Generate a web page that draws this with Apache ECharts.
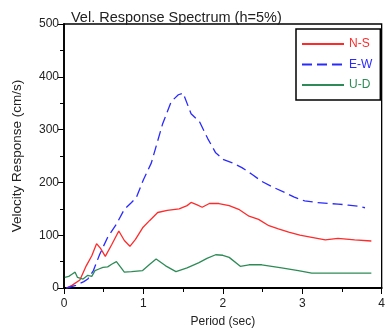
<!DOCTYPE html>
<html>
<head>
    <meta charset="UTF-8">
    <title>Vel. Response Spectrum</title>
    <script src="https://cdn.jsdelivr.net/npm/echarts@6/dist/echarts.min.js"></script>
    <style>
        html, body { margin: 0; padding: 0; background: #fff; }
        #chart { width: 388px; height: 333px; }
    </style>
</head>
<body>
<div id="chart"></div>
<script>
    // 周期 (sec) 与速度反应 (cm/s)
    var nsT = [0.03,0.1,0.2,0.28,0.35,0.41,0.46,0.52,0.6,0.69,0.76,0.83,0.9,0.99,1.08,1.18,1.3,1.45,1.55,1.6,1.67,1.74,1.83,1.95,2.08,2.2,2.33,2.45,2.58,2.7,2.83,2.97,3.12,3.29,3.45,3.66,3.87];
    var nsV = [0,5,15,42,61,84,75,60,82,108,90,79,92,114,128,143,147,150,156,162,158,153,160,160,156,149,136,130,118,112,106,100,96,91,94,91,89];

    var ewT = [0.03,0.15,0.25,0.3,0.37,0.45,0.55,0.66,0.76,0.85,0.91,1.0,1.1,1.24,1.35,1.44,1.5,1.6,1.71,1.81,1.91,2.01,2.12,2.24,2.37,2.49,2.63,2.78,2.9,3.03,3.18,3.33,3.45,3.58,3.7,3.79];
    var ewV = [0,5,12,17,33,64,96,121,149,162,171,205,237,310,353,366,369,330,314,283,256,243,237,228,215,202,191,181,172,165,162,160,159,157,155,152];

    var udT = [0.01,0.06,0.1,0.14,0.17,0.24,0.3,0.35,0.39,0.44,0.49,0.55,0.6,0.66,0.72,0.76,0.85,0.99,1.08,1.16,1.28,1.41,1.55,1.7,1.8,1.91,2.0,2.08,2.22,2.33,2.49,2.74,2.95,3.12,3.5,3.87];
    var udV = [20,22,26,30,20,17,24,22,33,36,39,40,45,50,38,30,31,33,45,55,42,31,38,48,56,63,62,58,41,44,44,38,33,28,28,28];

    var names = ['N-S', 'E-W', 'U-D'];
    var colors = ['#ff2a2a', '#2a2aff', '#2e8b57'];

    function pairs(t, v) {
        var out = [];
        for (var i = 0; i < t.length; i++) out.push([t[i], v[i]]);
        return out;
    }

    var font = 'Liberation Sans, Arial, sans-serif';
    var myChart = echarts.init(document.getElementById('chart'));

    var option = {
        animation: false,
        title: {
            text: 'Vel. Response Spectrum (h=5%)',
            left: 66, top: 5,
            textStyle: { fontFamily: font, fontSize: 14.5, fontWeight: 'normal', color: '#222' }
        },
        legend: {
            left: 296, top: 29,
            orient: 'vertical',
            width: 86,
            padding: [9, 8, 9, 5],
            itemWidth: 42, itemHeight: 10, itemGap: 8.5,
            borderColor: '#000', borderWidth: 1.5,
            itemStyle: { opacity: 0 },   // 只显示线, 不要圆点
            textStyle: { fontFamily: font, fontSize: 12 },
            data: names.map(function (n, i) {
                return { name: n, textStyle: { color: colors[i] } };
            })
        },
        grid: {
            left: 64, right: 4, top: 24, bottom: 44,
            show: true, borderColor: '#000', borderWidth: 1.3
        },
        xAxis: {
            type: 'value', min: 0, max: 4, interval: 1,
            name: 'Period (sec)', nameLocation: 'middle', nameGap: 28,
            nameTextStyle: { fontFamily: font, fontSize: 12, color: '#222' },
            axisLine: { lineStyle: { color: '#000', width: 1.8 } },
            axisTick: { length: 6, lineStyle: { color: '#000' } },
            minorTick: { show: true, splitNumber: 2, length: 4, lineStyle: { color: '#000' } },
            axisLabel: { fontFamily: font, fontSize: 12, color: '#222', margin: 10 },
            splitLine: { show: false }
        },
        yAxis: {
            type: 'value', min: 0, max: 500, interval: 100,
            name: 'Velocity Response (cm/s)', nameLocation: 'middle', nameGap: 40,
            nameTextStyle: { fontFamily: font, fontSize: 13.5, color: '#222' },
            axisLine: { lineStyle: { color: '#000', width: 1.8 } },
            axisTick: { length: 6, lineStyle: { color: '#000' } },
            minorTick: { show: true, splitNumber: 2, length: 4, lineStyle: { color: '#000' } },
            axisLabel: { fontFamily: font, fontSize: 12, color: '#222', margin: 5 },
            splitLine: { show: false }
        },
        series: [
            {
                name: 'N-S', type: 'line', symbol: 'none', data: pairs(nsT, nsV),
                itemStyle: { color: colors[0] },
                lineStyle: { color: colors[0], width: 1.3 }
            },
            {
                name: 'E-W', type: 'line', symbol: 'none', data: pairs(ewT, ewV),
                itemStyle: { color: colors[1] },
                lineStyle: { color: colors[1], width: 1.3, type: [10, 5] }
            },
            {
                name: 'U-D', type: 'line', symbol: 'none', data: pairs(udT, udV),
                itemStyle: { color: colors[2] },
                lineStyle: { color: colors[2], width: 1.3 }
            }
        ]
    };

    myChart.setOption(option);
</script>
</body>
</html>
